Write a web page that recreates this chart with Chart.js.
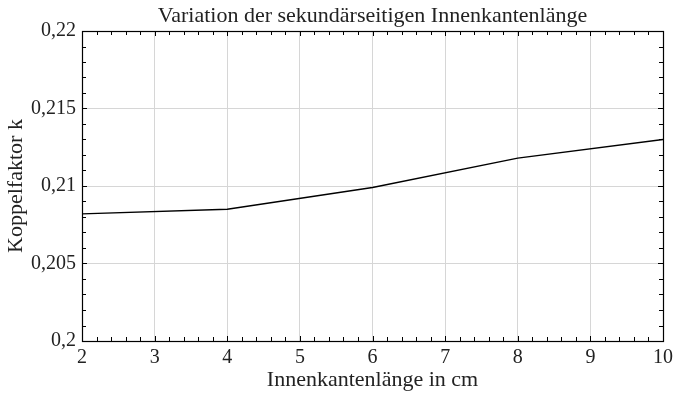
<!DOCTYPE html>
<html>
<head>
<meta charset="utf-8">
<script src="https://cdn.jsdelivr.net/npm/chart.js@4/dist/chart.umd.min.js"></script>
<style>
  html, body { margin: 0; padding: 0; background: #fff; }
  #wrap { width: 678px; height: 394px; }
</style>
</head>
<body>
<div id="wrap"><canvas id="c" width="678" height="394"></canvas></div>
<script>
// Daten
const laenge = [2, 4, 6, 8, 10];
const koppelfaktor = [0.2082, 0.2085, 0.2099, 0.2118, 0.2130];
const xTicks = [2, 3, 4, 5, 6, 7, 8, 9, 10];
const yTicks = [0.2, 0.205, 0.21, 0.215, 0.22];

const schrift = 'Liberation Serif, Times New Roman, serif';

function komma(v) {
    return Number(v.toFixed(3)).toString().replace('.', ',');
}

// Rahmen und Ticks nach innen (wie Matlab)
const rahmenPlugin = {
    id: 'rahmen',
    afterDatasetsDraw(chart) {
        const ctx = chart.ctx;
        const a = chart.chartArea;
        const sx = chart.scales.x;
        const sy = chart.scales.y;
        ctx.save();
        ctx.strokeStyle = '#000';
        ctx.lineWidth = 1;
        ctx.beginPath();
        // x-Ticks: Haupt- und Nebenticks
        for (let i = 0; i <= 40; i++) {
            const v = 2 + i * 0.2;
            const px = Math.round(sx.getPixelForValue(v)) + 0.5;
            const len = i % 5 === 0 ? 5 : 4;
            ctx.moveTo(px, a.bottom);
            ctx.lineTo(px, a.bottom - len);
            ctx.moveTo(px, a.top);
            ctx.lineTo(px, a.top + len);
        }
        // y-Ticks
        for (let i = 0; i <= 20; i++) {
            const v = 0.2 + i * 0.001;
            const py = Math.round(sy.getPixelForValue(v)) + 0.5;
            const len = i % 5 === 0 ? 5 : 4;
            ctx.moveTo(a.left, py);
            ctx.lineTo(a.left + len, py);
            ctx.moveTo(a.right, py);
            ctx.lineTo(a.right - len, py);
        }
        ctx.stroke();
        ctx.lineWidth = 1.2;
        ctx.strokeRect(Math.round(a.left) + 0.5, Math.round(a.top) + 0.5,
            Math.round(a.right - a.left), Math.round(a.bottom - a.top));
        ctx.restore();
    }
};

new Chart(document.getElementById('c'), {
    type: 'line',
    data: {
        datasets: [{
            data: laenge.map((x, i) => ({ x: x, y: koppelfaktor[i] })),
            borderColor: '#000',
            borderWidth: 1.4,
            pointRadius: 0,
            fill: false,
            tension: 0
        }]
    },
    options: {
        responsive: false,
        animation: false,
        layout: { padding: { left: 0, right: 11, top: 0, bottom: 0 } },
        plugins: {
            legend: { display: false },
            tooltip: { enabled: false },
            title: { display: false }
        },
        scales: {
            x: {
                type: 'linear',
                min: 2, max: 10,
                afterBuildTicks: s => { s.ticks = xTicks.map(v => ({ value: v })); },
                afterFit: s => { s.height = 53; },
                grid: { color: '#d6d6d6', drawTicks: false },
                border: { display: false },
                ticks: {
                    color: '#222',
                    padding: 5,
                    font: { family: schrift, size: 20 }
                },
                title: {
                    display: true,
                    text: 'Innenkantenlänge in cm',
                    color: '#222',
                    padding: { top: 0, bottom: 1 },
                    font: { family: schrift, size: 22 }
                }
            },
            xTop: {
                type: 'linear',
                position: 'top',
                min: 2, max: 10,
                afterFit: s => { s.height = 31; },
                grid: { display: false, drawTicks: false },
                border: { display: false },
                ticks: { display: false },
                title: {
                    display: true,
                    text: 'Variation der sekundärseitigen Innenkantenlänge',
                    color: '#222',
                    padding: { top: 3, bottom: 0 },
                    font: { family: schrift, size: 22 }
                }
            },
            y: {
                type: 'linear',
                min: 0.2, max: 0.22,
                afterBuildTicks: s => { s.ticks = yTicks.map(v => ({ value: v })); },
                afterFit: s => { s.width = 82; },
                grid: { color: '#d6d6d6', drawTicks: false },
                border: { display: false },
                ticks: {
                    color: '#222',
                    padding: 6,
                    font: { family: schrift, size: 20 },
                    callback: v => komma(v)
                },
                title: {
                    display: true,
                    text: 'Koppelfaktor k',
                    color: '#222',
                    padding: { top: 3, bottom: 0 },
                    font: { family: schrift, size: 22 }
                }
            }
        }
    },
    plugins: [rahmenPlugin]
});
</script>
</body>
</html>
